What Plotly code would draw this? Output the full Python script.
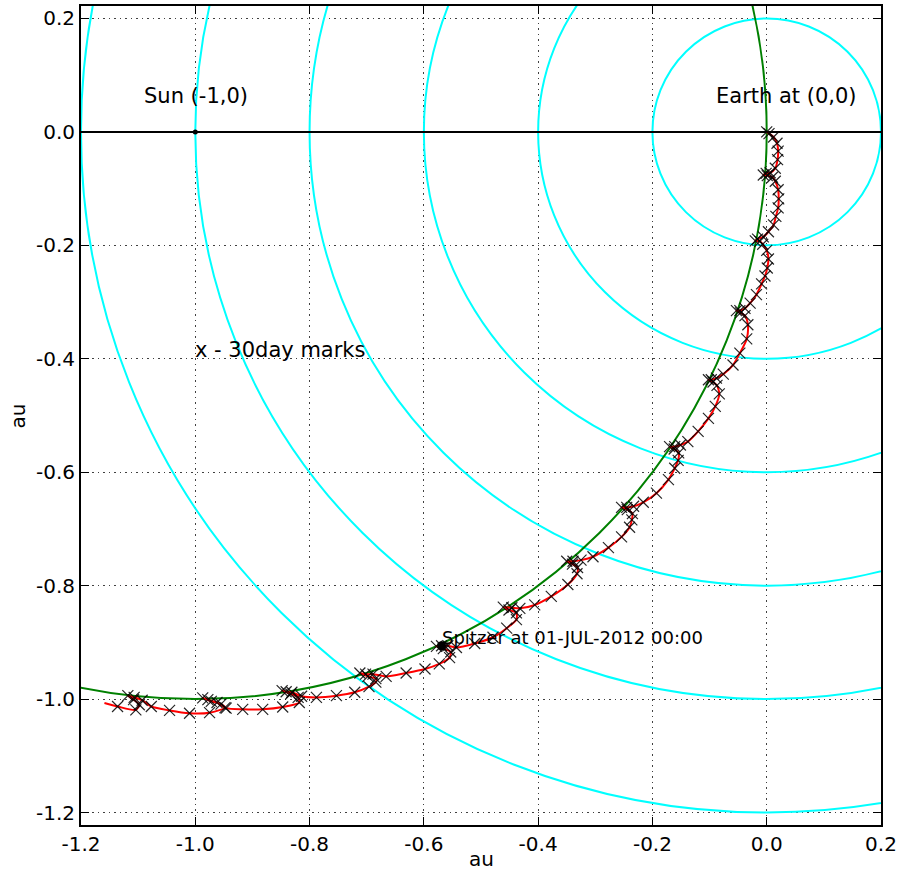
import plotly.graph_objects as go

# ---------------- data ----------------
x_range = [-1.2, 0.2]
y_range = [-1.222, 0.222]
x_ticks = [-1.2, -1.0, -0.8, -0.6, -0.4, -0.2, 0.0, 0.2]
x_tick_text = ["-1.2", "-1.0", "-0.8", "-0.6", "-0.4", "-0.2", "0.0", "0.2"]
y_ticks = [-1.2, -1.0, -0.8, -0.6, -0.4, -0.2, 0.0, 0.2]
y_tick_text = ["-1.2", "-1.0", "-0.8", "-0.6", "-0.4", "-0.2", "0.0", "0.2"]

earth_xy = [0.0, 0.0]
sun_xy = [-1.0, 0.0]
earth_orbit_radius = 1.0
range_rings_au = [0.2, 0.4, 0.6, 0.8, 1.0, 1.2]

spitzer_now = [-0.569, -0.906]
spitzer_label = "Spitzer at 01-JUL-2012 00:00"

# Spitzer track in Earth-centred, Sun-fixed frame (30 day marks)
traj_x = [
    0.000, 0.004, 0.012, 0.018, 0.020, 0.019, 0.015,
    0.006, -0.001, -0.006, 0.001, 0.010,
    0.015, 0.020, 0.021, 0.020, 0.016, 0.012, 0.003,
    -0.006, -0.016, -0.020, -0.012, -0.007,
    0.000, 0.003, 0.001, -0.003, -0.009, -0.018, -0.029,
    -0.038, -0.047, -0.053, -0.046, -0.038,
    -0.033, -0.035, -0.047, -0.059, -0.076,
    -0.088, -0.097, -0.102, -0.094, -0.087,
    -0.083, -0.090, -0.102, -0.120, -0.138,
    -0.151, -0.161, -0.170, -0.162, -0.154,
    -0.155, -0.161, -0.172, -0.193, -0.216,
    -0.233, -0.245, -0.254, -0.244, -0.235, -0.236,
    -0.240, -0.254, -0.277, -0.304,
    -0.325, -0.339, -0.350, -0.340, -0.331, -0.332,
    -0.348, -0.377, -0.406,
    -0.432, -0.446, -0.461, -0.451, -0.438, -0.438,
    -0.455, -0.479, -0.511, -0.543,
    -0.558, -0.569, -0.578, -0.566, -0.553, -0.555,
    -0.573, -0.598, -0.631, -0.666,
    -0.689, -0.702, -0.712, -0.698, -0.684, -0.684,
    -0.696, -0.721, -0.753, -0.788,
    -0.814, -0.831, -0.841, -0.848, -0.833, -0.820, -0.818,
    -0.847, -0.882, -0.917, -0.946,
    -0.962, -0.978, -0.987, -0.972, -0.955, -0.948,
    -0.975, -1.010, -1.045, -1.077,
    -1.093, -1.107, -1.118, -1.108, -1.098, -1.104, -1.136,
    -1.159,
]
traj_y = [
    0.000, -0.003, -0.009, -0.020, -0.034, -0.049, -0.064,
    -0.072, -0.073, -0.076, -0.077, -0.080,
    -0.087, -0.102, -0.118, -0.134, -0.149, -0.164, -0.176,
    -0.185, -0.189, -0.192, -0.193, -0.198,
    -0.209, -0.224, -0.240, -0.254, -0.268, -0.287, -0.302,
    -0.311, -0.315, -0.315, -0.319, -0.324,
    -0.340, -0.365, -0.390, -0.411, -0.427,
    -0.434, -0.437, -0.437, -0.441, -0.447,
    -0.462, -0.484, -0.505, -0.528, -0.546,
    -0.552, -0.555, -0.555, -0.559, -0.566,
    -0.579, -0.593, -0.613, -0.637, -0.653,
    -0.660, -0.662, -0.662, -0.666, -0.673, -0.684,
    -0.697, -0.714, -0.733, -0.749,
    -0.755, -0.757, -0.757, -0.762, -0.768, -0.779,
    -0.798, -0.819, -0.834,
    -0.840, -0.839, -0.838, -0.843, -0.848, -0.860,
    -0.875, -0.891, -0.902, -0.909,
    -0.906, -0.906, -0.907, -0.911, -0.917, -0.927,
    -0.938, -0.947, -0.954, -0.960,
    -0.956, -0.956, -0.954, -0.960, -0.964, -0.970,
    -0.978, -0.988, -0.994, -0.997,
    -0.995, -0.988, -0.987, -0.985, -0.991, -0.997, -1.006,
    -1.014, -1.018, -1.018, -1.016,
    -1.006, -1.001, -0.998, -1.004, -1.009, -1.015,
    -1.024, -1.025, -1.020, -1.013,
    -1.002, -0.997, -0.994, -1.001, -1.010, -1.019, -1.013,
    -1.007,
]

# ---------------- figure ----------------
FONT = "DejaVu Sans"
fig = go.Figure()

# Sun-Earth line
fig.add_trace(go.Scatter(x=x_range, y=[sun_xy[1], earth_xy[1]], mode="lines",
                         line=dict(color="black", width=2), hoverinfo="skip",
                         showlegend=False))
# trajectory
fig.add_trace(go.Scatter(x=traj_x, y=traj_y, mode="lines",
                         line=dict(color="red", width=2, shape="spline", smoothing=0.7),
                         showlegend=False))
fig.add_trace(go.Scatter(x=traj_x[:-1], y=traj_y[:-1], mode="markers",
                         marker=dict(symbol="x-thin", size=11,
                                     line=dict(color="rgba(0,0,0,0.85)", width=1.2)),
                         showlegend=False))
# Sun
fig.add_trace(go.Scatter(x=[sun_xy[0]], y=[sun_xy[1]], mode="markers",
                         marker=dict(color="black", size=5), showlegend=False))
# Spitzer now
fig.add_trace(go.Scatter(x=[spitzer_now[0]], y=[spitzer_now[1]], mode="markers",
                         marker=dict(color="black", size=9), showlegend=False))

shapes = []
for r in range_rings_au:
    shapes.append(dict(type="circle", xref="x", yref="y",
                       x0=earth_xy[0] - r, x1=earth_xy[0] + r,
                       y0=earth_xy[1] - r, y1=earth_xy[1] + r,
                       line=dict(color="cyan", width=2), layer="between"))
shapes.append(dict(type="circle", xref="x", yref="y",
                   x0=sun_xy[0] - earth_orbit_radius, x1=sun_xy[0] + earth_orbit_radius,
                   y0=sun_xy[1] - earth_orbit_radius, y1=sun_xy[1] + earth_orbit_radius,
                   line=dict(color="green", width=2), layer="between"))

ann_font = dict(family=FONT, size=21, color="black")
annotations = [
    dict(x=-1.094, y=0.064, text="Sun (-1,0)", xref="x", yref="y", showarrow=False,
         xanchor="left", yanchor="middle", font=ann_font),
    dict(x=-0.0924, y=0.064, text="Earth at (0,0)", xref="x", yref="y", showarrow=False,
         xanchor="left", yanchor="middle", font=ann_font),
    dict(x=-1.0045, y=-0.385, text="x - 30day marks", xref="x", yref="y", showarrow=False,
         xanchor="left", yanchor="middle", font=ann_font),
    dict(x=spitzer_now[0] - 0.003, y=spitzer_now[1] + 0.015, text=spitzer_label, xref="x",
         yref="y", showarrow=False, xanchor="left", yanchor="middle",
         font=dict(family=FONT, size=18, color="black")),
    # axis titles
    dict(x=0.5, y=-0.0415, text="au", xref="paper", yref="paper", showarrow=False,
         xanchor="center", yanchor="middle", font=dict(family=FONT, size=20, color="black")),
    dict(x=-0.0788, y=0.5, text="au", xref="paper", yref="paper", showarrow=False,
         textangle=-90, xanchor="center", yanchor="middle",
         font=dict(family=FONT, size=20, color="black")),
]

axis_common = dict(
    showgrid=True, gridcolor="rgba(0,0,0,0.75)", gridwidth=1, griddash="1.5px,4px",
    zeroline=False, showline=True, linecolor="black", linewidth=2, mirror="ticks",
    ticks="inside", ticklen=8, tickwidth=1.2, tickcolor="black", automargin=False,
    tickfont=dict(family=FONT, size=20, color="black"),
)

fig.update_layout(
    width=899, height=873,
    margin=dict(l=81, r=18, t=6, b=48),
    paper_bgcolor="white", plot_bgcolor="white",
    shapes=shapes, annotations=annotations,
    xaxis=dict(range=x_range, tickvals=x_ticks, ticktext=x_tick_text, **axis_common),
    yaxis=dict(range=y_range, tickvals=y_ticks, ticktext=y_tick_text, **axis_common),
    showlegend=False,
)

fig.write_html("out.html",
               config={"displayModeBar": False},
               post_script="document.body.style.margin='0px';"
                           "document.body.style.padding='0px';"
                           "document.body.style.overflow='hidden';")
